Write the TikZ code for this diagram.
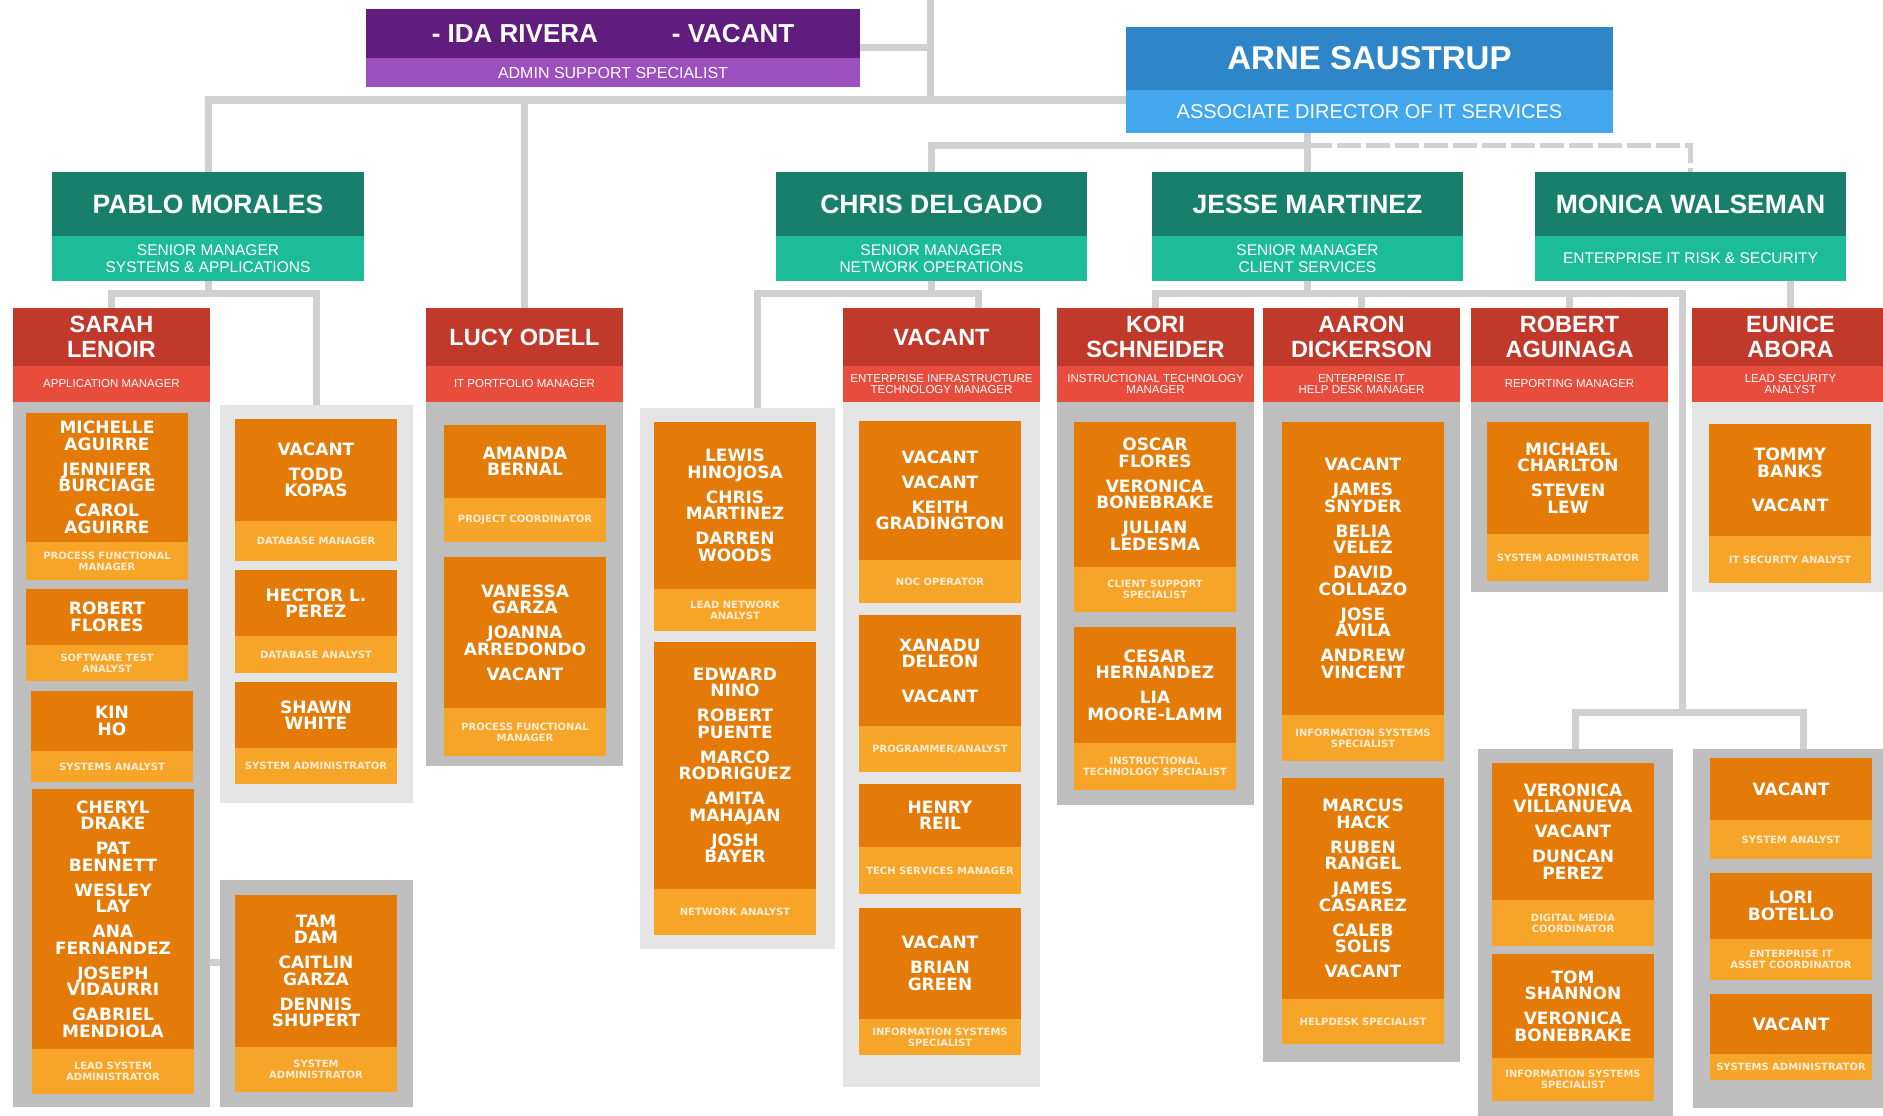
\documentclass[tikz,border=0pt]{standalone}
\usepackage{fontspec}
\setmainfont{Liberation Sans}
\newfontfamily\namefont{DejaVu Sans}
\usetikzlibrary{calc}
\definecolor{violetdark}{RGB}{96,29,126}
\definecolor{violetlight}{RGB}{156,79,190}
\definecolor{bluedark}{RGB}{46,134,200}
\definecolor{bluelight}{RGB}{66,167,236}
\definecolor{greendark}{RGB}{24,128,106}
\definecolor{greenlight}{RGB}{29,188,153}
\definecolor{reddark}{RGB}{192,57,43}
\definecolor{redlight}{RGB}{232,76,61}
\definecolor{orangedark}{RGB}{228,122,8}
\definecolor{orangelight}{RGB}{247,165,40}
\definecolor{panedark}{RGB}{190,190,190}
\definecolor{panelight}{RGB}{229,229,229}
\definecolor{linkgrey}{RGB}{208,208,208}
\definecolor{roletext}{RGB}{255,236,210}
\tikzstyle{org chart}=[
    tile/.style={rectangle, anchor=north west, inner sep=0pt, outer sep=0pt, text=white, align=center},
    admin top/.style={tile, fill=violetdark, font={\fontsize{26}{26}\selectfont\bfseries}},
    admin role/.style={tile, fill=violetlight, font={\fontsize{16}{16}\selectfont}},
    chief top/.style={tile, fill=bluedark, font={\fontsize{33}{33}\selectfont\bfseries}},
    chief role/.style={tile, fill=bluelight, font={\fontsize{20}{20}\selectfont}},
    senior top/.style={tile, fill=greendark, font={\fontsize{26.5}{26.5}\selectfont\bfseries}},
    senior role/.style={tile, fill=greenlight, font={\fontsize{15.5}{17}\selectfont}},
    manager top/.style={tile, fill=reddark, font={\fontsize{23.5}{25}\selectfont\bfseries}},
    manager role/.style={tile, fill=redlight, font={\fontsize{11.5}{11.5}\selectfont}},
    staff top/.style={tile, fill=orangedark, font={\namefont\bfseries\fontsize{17}{16.5}\selectfont}},
    staff role/.style={tile, fill=orangelight, text=roletext, font={\namefont\bfseries\fontsize{10}{11}\selectfont}},
    dark pane/.style={rectangle, anchor=north west, inner sep=0pt, outer sep=0pt, fill=panedark},
    light pane/.style={rectangle, anchor=north west, inner sep=0pt, outer sep=0pt, fill=panelight},
    link/.style={draw=linkgrey, line width=7pt},
    dash link/.style={draw=linkgrey, line width=5pt, dash pattern=on 24pt off 5pt}
]
\pgfdeclarelayer{background}
\pgfsetlayers{background,main}
\newcommand{\orgbox}[9]{
    \node[#1 top, minimum width=#5, minimum height={#6-(#4)}] (#2) at (#3,#4) {#8};
    \node[#1 role, minimum width=#5, minimum height={#7-(#6)}] (#2-r) at (#2.south west) {#9};
}
\newcommand{\staff}[7]{\orgbox{staff}{#1}{#2}{#3}{162}{#4}{#5}{#6}{#7}}
\newcommand{\pane}[6]{
    \node[#1 pane, minimum width={#5-(#3)}, minimum height={#6-(#4)}] (#2) at (#3,#4) {};
}
\newcommand{\nx}{\\[8.5pt]}

\begin{document}
\begin{tikzpicture}[org chart, x=1pt, y=-1pt]
    \useasboundingbox (0,0) rectangle (1883,1116);
    \clip (0,0) rectangle (1883,1116);

    \orgbox{admin}{admin}{366}{9}{494}{58}{87}{- IDA RIVERA\hspace{74pt}- VACANT}{ADMIN SUPPORT SPECIALIST}
    \orgbox{chief}{chief}{1126}{27}{487}{90}{133}{ARNE SAUSTRUP}{ASSOCIATE DIRECTOR OF IT SERVICES}

    \orgbox{senior}{pablo}{52}{172}{312}{236}{281}{PABLO MORALES}{SENIOR MANAGER\\SYSTEMS \& APPLICATIONS}
    \orgbox{senior}{chris}{776}{172}{311}{236}{281}{CHRIS DELGADO}{SENIOR MANAGER\\NETWORK OPERATIONS}
    \orgbox{senior}{jesse}{1152}{172}{311}{236}{281}{JESSE MARTINEZ}{SENIOR MANAGER\\CLIENT SERVICES}
    \orgbox{senior}{monica}{1535}{172}{311}{236}{281}{MONICA WALSEMAN}{ENTERPRISE IT RISK \& SECURITY}

    \pane{dark}{sp}{13}{402}{210}{1107}
    \pane{light}{pg2}{220}{405}{413}{803}
    \pane{dark}{pg3}{220}{880}{413}{1107}
    \pane{dark}{lp}{426}{402}{623}{766}
    \pane{light}{np}{640}{408}{835}{949}
    \pane{light}{vp}{843}{402}{1040}{1087}
    \pane{dark}{kp}{1057}{402}{1254}{805}
    \pane{dark}{ap}{1263}{402}{1460}{1062}
    \pane{dark}{rp}{1471}{402}{1668}{592}
    \pane{light}{ep}{1692}{402}{1889}{592}
    \pane{dark}{bl}{1478}{749}{1673}{1122}
    \pane{dark}{brp}{1693}{749}{1913}{1108}

    \orgbox{manager}{sarah}{13}{308}{197}{366}{402}{SARAH\\LENOIR}{APPLICATION MANAGER}
    \orgbox{manager}{lucy}{426}{308}{197}{366}{402}{LUCY ODELL}{IT PORTFOLIO MANAGER}
    \orgbox{manager}{vac}{843}{308}{197}{366}{402}{VACANT}{ENTERPRISE INFRASTRUCTURE\\TECHNOLOGY MANAGER}
    \orgbox{manager}{kori}{1057}{308}{197}{366}{402}{KORI\\SCHNEIDER}{INSTRUCTIONAL TECHNOLOGY\\MANAGER}
    \orgbox{manager}{aaron}{1263}{308}{197}{366}{402}{AARON\\DICKERSON}{ENTERPRISE IT\\HELP DESK MANAGER}
    \orgbox{manager}{robert}{1471}{308}{197}{366}{402}{ROBERT\\AGUINAGA}{REPORTING MANAGER}
    \orgbox{manager}{eunice}{1692}{308}{197}{366}{402}{EUNICE\\ABORA}{LEAD SECURITY\\ANALYST}

    \staff{sa1}{26}{413}{542}{580}{MICHELLE\\AGUIRRE\nx JENNIFER\\BURCIAGE\nx CAROL\\AGUIRRE}{PROCESS FUNCTIONAL\\MANAGER}
    \staff{sa2}{26}{589}{645}{681}{ROBERT\\FLORES}{SOFTWARE TEST\\ANALYST}
    \staff{sa3}{31}{691}{751}{782}{KIN\\HO}{SYSTEMS ANALYST}
    \staff{sa4}{32}{789}{1049}{1094}{CHERYL\\DRAKE\nx PAT\\BENNETT\nx WESLEY\\LAY\nx ANA\\FERNANDEZ\nx JOSEPH\\VIDAURRI\nx GABRIEL\\MENDIOLA}{LEAD SYSTEM\\ADMINISTRATOR}

    \staff{pb1}{235}{419}{521}{561}{VACANT\nx TODD\\KOPAS}{DATABASE MANAGER}
    \staff{pb2}{235}{570}{636}{673}{HECTOR L.\\PEREZ}{DATABASE ANALYST}
    \staff{pb3}{235}{682}{748}{784}{SHAWN\\WHITE}{SYSTEM ADMINISTRATOR}
    \staff{pc1}{235}{895}{1047}{1092}{TAM\\DAM\nx CAITLIN\\GARZA\nx DENNIS\\SHUPERT}{SYSTEM\\ADMINISTRATOR}

    \staff{lu1}{444}{425}{498}{542}{AMANDA\\BERNAL}{PROJECT COORDINATOR}
    \staff{lu2}{444}{557}{708}{756}{VANESSA\\GARZA\nx JOANNA\\ARREDONDO\nx VACANT}{PROCESS FUNCTIONAL\\MANAGER}

    \staff{nw1}{654}{422}{589}{631}{LEWIS\\HINOJOSA\nx CHRIS\\MARTINEZ\nx DARREN\\WOODS}{LEAD NETWORK\\ANALYST}
    \staff{nw2}{654}{642}{889}{935}{EDWARD\\NINO\nx ROBERT\\PUENTE\nx MARCO\\RODRIGUEZ\nx AMITA\\MAHAJAN\nx JOSH\\BAYER}{NETWORK ANALYST}

    \staff{vc1}{859}{421}{560}{603}{VACANT\nx VACANT\nx KEITH\\GRADINGTON}{NOC OPERATOR}
    \staff{vc2}{859}{615}{726}{772}{XANADU\\DELEON\\[18pt]VACANT}{PROGRAMMER/ANALYST}
    \staff{vc3}{859}{784}{847}{894}{HENRY\\REIL}{TECH SERVICES MANAGER}
    \staff{vc4}{859}{908}{1019}{1055}{VACANT\nx BRIAN\\GREEN}{INFORMATION SYSTEMS\\SPECIALIST}

    \staff{ko1}{1074}{422}{567}{612}{OSCAR\\FLORES\nx VERONICA\\BONEBRAKE\nx JULIAN\\LEDESMA}{CLIENT SUPPORT\\SPECIALIST}
    \staff{ko2}{1074}{627}{743}{790}{CESAR\\HERNANDEZ\nx LIA\\MOORE-LAMM}{INSTRUCTIONAL\\TECHNOLOGY SPECIALIST}

    \staff{aa1}{1282}{422}{715}{761}{VACANT\nx JAMES\\SNYDER\nx BELIA\\VELEZ\nx DAVID\\COLLAZO\nx JOSE\\AVILA\nx ANDREW\\VINCENT}{INFORMATION SYSTEMS\\SPECIALIST}
    \staff{aa2}{1282}{778}{999}{1044}{MARCUS\\HACK\nx RUBEN\\RANGEL\nx JAMES\\CASAREZ\nx CALEB\\SOLIS\nx VACANT}{HELPDESK SPECIALIST}

    \staff{ro1}{1487}{422}{534}{581}{MICHAEL\\CHARLTON\nx STEVEN\\LEW}{SYSTEM ADMINISTRATOR}
    \staff{eu1}{1709}{424}{536}{583}{TOMMY\\BANKS\\[18pt]VACANT}{IT SECURITY ANALYST}

    \staff{bl1}{1492}{763}{900}{946}{VERONICA\\VILLANUEVA\nx VACANT\nx DUNCAN\\PEREZ}{DIGITAL MEDIA\\COORDINATOR}
    \staff{bl2}{1492}{954}{1058}{1101}{TOM\\SHANNON\nx VERONICA\\BONEBRAKE}{INFORMATION SYSTEMS\\SPECIALIST}
    \staff{bq1}{1710}{758}{820}{859}{VACANT}{SYSTEM ANALYST}
    \staff{bq2}{1710}{873}{939}{980}{LORI\\BOTELLO}{ENTERPRISE IT\\ASSET COORDINATOR}
    \staff{bq3}{1710}{994}{1054}{1080}{VACANT}{SYSTEMS ADMINISTRATOR}

    \begin{pgfonlayer}{background}
    \coordinate (root) at (930,0);
    \coordinate (lvA) at (0,100);
    \coordinate (lvB) at (0,145);
    \coordinate (lvC) at (0,293);
    \coordinate (lvD) at (0,712);
    \coordinate (lvE) at (0,962);
    \coordinate (jr) at (1682,293);
    \draw[link] (root) -- (root |- lvA) coordinate (hub) -- (hub -| chief.west);
    \draw[link] ($(admin.north east)!.5!(admin-r.south east)$) coordinate (am) -- (am -| root);
    \draw[link] (pablo.north) |- (hub);
    \draw[link] (lucy.north) -- (lucy.north |- hub);
    \draw[link] (chief-r.south -| jesse.north) -- (jesse.north);
    \draw[link] (chris.north) |- (jesse.north |- lvB);
    \draw[dash link] (jesse.north |- lvB) -| (monica.north);
    \draw[link] (pablo-r.south) -- (pablo-r.south |- lvC) coordinate (pj);
    \draw[link] (sarah.north) |- (pj) -| (pg2.north);
    \draw[link] (chris-r.south) -- (chris-r.south |- lvC) coordinate (cj);
    \draw[link] ([xshift=20pt]np.north) |- (cj) -| ([xshift=37pt]vac.north);
    \draw[link] (jesse-r.south) -- (jesse-r.south |- lvC);
    \draw[link] (kori.north) |- (jr) -- (jr |- lvD) coordinate (bj);
    \foreach \n in {aaron,robert}
        \draw[link] (\n.north) -- (\n.north |- lvC);
    \draw[link] (bl.north) |- (bj) -| (brp.north);
    \draw[link] (monica-r.south -| eunice.north) -- (eunice.north);
    \draw[link] (sp.east |- lvE) -- (pg3.west |- lvE);
    \end{pgfonlayer}
\end{tikzpicture}
\end{document}
